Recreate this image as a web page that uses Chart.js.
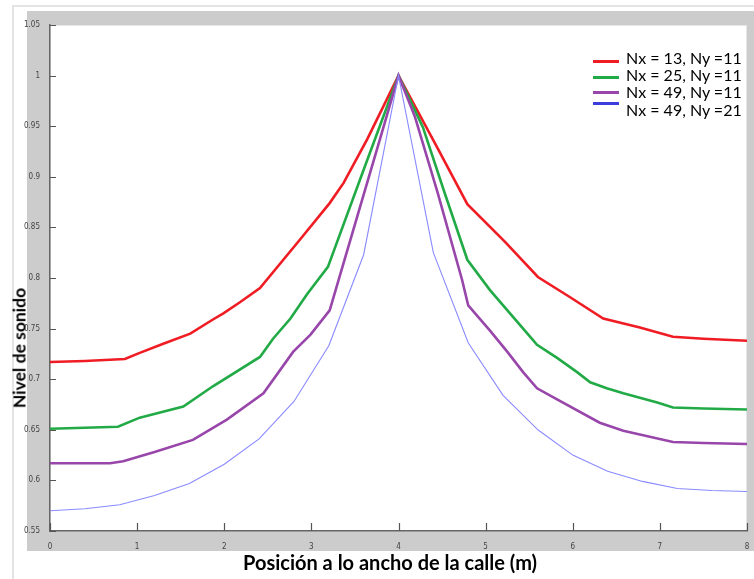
<!DOCTYPE html>
<html>
<head>
<meta charset="utf-8">
<script src="https://cdn.jsdelivr.net/npm/chart.js@4.4.1/dist/chart.umd.min.js"></script>
<style>
  html, body { margin:0; padding:0; background:#fff; }
  #wrap { position:relative; width:754px; height:579px; overflow:hidden; }
  #outer { position:absolute; left:12px; top:5px; width:760px; height:600px; border-left:2px solid #e4e4e4; border-top:2px solid #e4e4e4; }
  #frame { position:absolute; left:27px; top:11px; width:727px; height:540px; background:#cccccc; }
  canvas { position:absolute; left:0; top:0; }
  .ttl { position:absolute; font-family:Lato, 'Open Sans', sans-serif; font-weight:bold; color:#000; white-space:nowrap; }
  #xt { left:243px; top:550px; font-size:20px; }
  #yt { left:19px; top:348px; font-size:17.5px; transform:translate(-50%,-50%) rotate(-90deg); }
  .lg { position:absolute; left:593px; font-family:Lato, 'Open Sans', sans-serif; font-size:16px; color:#000; white-space:nowrap; }
  .lg span.ln { position:absolute; left:0; width:26px; height:3px; }
  .lg span.tx { position:absolute; left:33px; }
</style>
</head>
<body>
<div id="wrap">
  <div id="outer"></div>
  <div id="frame"></div>
  <canvas id="c" width="754" height="579"></canvas>
  <div class="ttl" id="xt">Posición a lo ancho de la calle (m)</div>
  <div class="ttl" id="yt">Nivel de sonido</div>
  <div id="legend"></div>
</div>
<script>
// ---- data ----
const seriesLabels = ['Nx = 13, Ny =11', 'Nx = 25, Ny =11', 'Nx = 49, Ny =11', 'Nx = 49, Ny =21'];

const redX = [0, 0.4, 0.86, 1.03, 1.3, 1.61, 1.87, 1.99, 2.18, 2.41, 2.87, 3.21, 3.37, 3.64, 4.0, 4.45, 4.79, 5.22, 5.6, 5.97, 6.35, 6.77, 7.15, 7.5, 8.0];
const redY = [0.717, 0.718, 0.720, 0.726, 0.735, 0.745, 0.759, 0.765, 0.776, 0.790, 0.838, 0.874, 0.894, 0.937, 1.0, 0.928, 0.873, 0.836, 0.801, 0.781, 0.760, 0.751, 0.742, 0.740, 0.738];

const greenX = [0, 0.4, 0.78, 1.03, 1.53, 1.87, 2.41, 2.56, 2.76, 2.95, 3.19, 3.6, 4.0, 4.28, 4.53, 4.79, 5.05, 5.25, 5.47, 5.59, 5.82, 6.05, 6.2, 6.39, 6.58, 6.97, 7.15, 7.5, 8.0];
const greenY = [0.651, 0.652, 0.653, 0.662, 0.673, 0.693, 0.722, 0.740, 0.760, 0.784, 0.811, 0.907, 1.0, 0.949, 0.884, 0.818, 0.788, 0.768, 0.746, 0.734, 0.721, 0.707, 0.697, 0.691, 0.686, 0.677, 0.672, 0.671, 0.670];

const purpleX = [0, 0.4, 0.69, 0.84, 1.2, 1.64, 2.03, 2.45, 2.79, 2.99, 3.21, 3.5, 3.8, 4.0, 4.19, 4.45, 4.73, 4.8, 5.05, 5.25, 5.43, 5.59, 5.82, 6.31, 6.58, 7.15, 7.5, 8.0];
const purpleY = [0.617, 0.617, 0.617, 0.619, 0.628, 0.640, 0.660, 0.686, 0.727, 0.744, 0.768, 0.853, 0.941, 1.0, 0.959, 0.884, 0.798, 0.773, 0.748, 0.727, 0.707, 0.691, 0.680, 0.657, 0.649, 0.638, 0.637, 0.636];

const blueX = [0, 0.4, 0.8, 1.2, 1.6, 2.0, 2.4, 2.8, 3.2, 3.6, 4.0, 4.4, 4.8, 5.2, 5.6, 6.0, 6.4, 6.8, 7.2, 7.6, 8.0];
const blueY = [0.570, 0.572, 0.576, 0.585, 0.597, 0.616, 0.641, 0.678, 0.733, 0.823, 1.0, 0.825, 0.736, 0.684, 0.650, 0.625, 0.609, 0.599, 0.592, 0.590, 0.589];

const xTicks = [0, 1, 2, 3, 4, 5, 6, 7, 8];
const yTicks = [0.55, 0.6, 0.65, 0.7, 0.75, 0.8, 0.85, 0.9, 0.95, 1, 1.05];
const yTickLabels = ['0.55', '0.6', '0.65', '0.7', '0.75', '0.8', '0.85', '0.9', '0.95', '1', '1.05'];

// ---- styles ----
const lineColors = ['#f01c24', '#22aa46', '#9846aa', '#8a8aff'];
const legendColors = ['#f01c24', '#22aa46', '#9846aa', '#3c3cdc'];
const lineWidths = [2.6, 2.6, 2.6, 1.1];

function pts(xs, ys) { return xs.map((x, i) => ({ x: x, y: ys[i] })); }
const seriesData = [pts(redX, redY), pts(greenX, greenY), pts(purpleX, purpleY), pts(blueX, blueY)];
const order = [3, 2, 1, 0];

const tickFont = { family: "'Liberation Sans Narrow', 'DejaVu Sans Condensed', 'Liberation Sans', sans-serif", size: 8 };

const plotBg = {
  id: 'plotBg',
  beforeDraw(chart) {
    const a = chart.chartArea, ctx = chart.ctx;
    ctx.save();
    ctx.fillStyle = '#ffffff';
    ctx.fillRect(a.left, a.top, a.right - a.left, a.bottom - a.top);
    ctx.strokeStyle = '#e6e6e6';
    ctx.lineWidth = 1;
    ctx.strokeRect(a.left + 0.5, a.top + 0.5, a.right - a.left - 1, a.bottom - a.top - 1);
    ctx.restore();
  }
};

const inwardTicks = {
  id: 'inwardTicks',
  afterDraw(chart) {
    const ctx = chart.ctx, xs = chart.scales.x, ys = chart.scales.y;
    ctx.save();
    ctx.strokeStyle = '#555';
    ctx.lineWidth = 1.2;
    ctx.beginPath();
    ys.ticks.forEach(t => {
      const y = Math.round(ys.getPixelForValue(t.value)) + 0.5;
      ctx.moveTo(ys.right, y); ctx.lineTo(ys.right + 6, y);
    });
    xs.ticks.forEach(t => {
      const x = Math.round(xs.getPixelForValue(t.value)) + 0.5;
      ctx.moveTo(x, xs.top); ctx.lineTo(x, xs.top - 8);
    });
    ctx.stroke();
    ctx.restore();
  }
};

new Chart(document.getElementById('c'), {
  type: 'line',
  data: {
    datasets: order.map(i => ({
      label: seriesLabels[i],
      data: seriesData[i],
      borderColor: lineColors[i],
      backgroundColor: lineColors[i],
      borderWidth: lineWidths[i],
      pointRadius: 0,
      tension: 0,
      fill: false
    }))
  },
  options: {
    responsive: false,
    animation: false,
    layout: { padding: { left: 0, top: 25, right: 7, bottom: 0 } },
    plugins: { legend: { display: false }, tooltip: { enabled: false } },
    scales: {
      x: {
        type: 'linear', min: 0, max: 8,
        afterBuildTicks: s => { s.ticks = xTicks.map(v => ({ value: v })); },
        afterFit: s => { s.height = 48; },
        grid: { display: false },
        border: { display: true, color: '#666', width: 1.5 },
        ticks: { font: tickFont, color: '#444', padding: 3, maxRotation: 0, callback: v => String(v) }
      },
      y: {
        type: 'linear', min: 0.55, max: 1.05,
        afterBuildTicks: s => { s.ticks = yTicks.map(v => ({ value: v })); },
        afterFit: s => { s.width = 50; },
        grid: { display: false },
        border: { display: true, color: '#666', width: 1.5 },
        ticks: { font: tickFont, color: '#444', padding: 2,
          callback: v => { const k = yTicks.findIndex(t => Math.abs(t - v) < 1e-9); return k >= 0 ? yTickLabels[k] : ''; } }
      }
    }
  },
  plugins: [plotBg, inwardTicks]
});

// HTML legend
const legendRowsTop = [48, 65, 82, 100];
const legendLineY = [61, 77, 92, 103];
const lg = document.getElementById('legend');
seriesLabels.forEach((lab, i) => {
  const row = document.createElement('div');
  row.className = 'lg';
  row.style.top = '0px';
  const ln = document.createElement('span');
  ln.className = 'ln';
  ln.style.background = legendColors[i];
  ln.style.top = (legendLineY[i] - 1) + 'px';
  const tx = document.createElement('span');
  tx.className = 'tx';
  tx.style.top = legendRowsTop[i] + 'px';
  tx.textContent = lab;
  row.appendChild(ln); row.appendChild(tx);
  lg.appendChild(row);
});
</script>
</body>
</html>
